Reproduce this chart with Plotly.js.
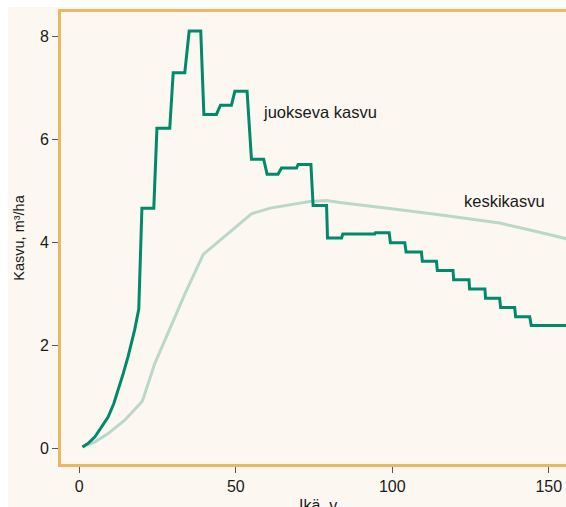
<!DOCTYPE html>
<html>
<head>
<meta charset="utf-8">
<script src="https://cdn.plot.ly/plotly-3.0.1.min.js"></script>
<style>
  html, body { margin: 0; padding: 0; background: #ffffff; }
  #chart { position: absolute; left: 8px; top: 7px; width: 558px; height: 500px; }
</style>
</head>
<body>
<div id="chart"></div>
<script>
// Juokseva kasvu: smooth early part (ages, m3/ha)
const earlyAges   = [1, 3, 5, 7, 9.2, 11, 12.4, 14, 15.6, 17.7, 19];
const earlyValues = [0.02, 0.10, 0.22, 0.39, 0.60, 0.86, 1.12, 1.44, 1.78, 2.30, 2.70];

// Juokseva kasvu: 5-year periods (start age, end age, value)
const periodStart = [20, 24.8, 30, 35.1, 39.8, 45.1, 49.7, 55, 60, 64.6, 69.9, 74.7, 79.3, 84.2, 89.5, 94.6, 99.4, 104.4, 109.6, 114.4, 119.6, 124.7, 129.8, 134.6, 139.4, 144.4];
const periodEnd   = [23.8, 28.9, 33.7, 38.8, 43.8, 48.6, 53.6, 58.9, 63.5, 69.4, 74.0, 79.0, 83.8, 89.0, 94.4, 99.0, 104.0, 109.3, 114.1, 119.4, 124.5, 129.6, 134.3, 139.1, 143.9, 156];
const periodValue = [4.66, 6.21, 7.29, 8.10, 6.48, 6.66, 6.93, 5.61, 5.32, 5.44, 5.51, 4.71, 4.08, 4.16, 4.16, 4.18, 3.99, 3.81, 3.63, 3.45, 3.27, 3.09, 2.91, 2.73, 2.55, 2.38];

// Keskikasvu (mean annual increment)
const meanAges   = [1, 5, 9.2, 14.5, 20, 20.6, 24.1, 26.3, 30.5, 33.7, 39.6, 55, 61, 73.6, 79, 83.2, 96, 102.4, 115, 128, 134.3, 145, 156];
const meanValues = [0.02, 0.12, 0.28, 0.54, 0.90, 0.99, 1.64, 1.96, 2.54, 2.99, 3.76, 4.55, 4.66, 4.79, 4.81, 4.77, 4.68, 4.63, 4.53, 4.43, 4.37, 4.22, 4.06];

// Axis ticks
const xTicks = [0, 50, 100, 150];
const yTicks = [0, 2, 4, 6, 8];

const stepX = earlyAges.slice();
const stepY = earlyValues.slice();
for (let i = 0; i < periodStart.length; i++) {
  stepX.push(periodStart[i], periodEnd[i]);
  stepY.push(periodValue[i], periodValue[i]);
}

const FONT = 'Liberation Sans, Arial, sans-serif';

const traces = [
  {
    x: meanAges, y: meanValues, type: 'scatter', mode: 'lines',
    line: { color: '#b9d9c6', width: 3 }, hoverinfo: 'skip', showlegend: false
  },
  {
    x: stepX, y: stepY, type: 'scatter', mode: 'lines',
    line: { color: '#00896a', width: 3 }, hoverinfo: 'skip', showlegend: false
  }
];

const layout = {
  width: 558, height: 500,
  margin: { l: 53, r: 0, t: 5, b: 43 },
  paper_bgcolor: '#fcf8f1',
  plot_bgcolor: '#fcf8f1',
  font: { family: FONT, size: 16, color: '#1a1a1a' },
  showlegend: false,
  xaxis: {
    range: [-5.85, 155.5],
    tickvals: xTicks, ticktext: xTicks.map(String),
    ticks: 'outside', ticklen: 6, tickwidth: 1, tickcolor: '#555555',
    showline: true, linecolor: '#e9b862', linewidth: 3, mirror: true,
    showgrid: false, zeroline: false,
    tickfont: { size: 16, family: FONT, color: '#1a1a1a' }
  },
  yaxis: {
    range: [-0.31, 8.47],
    tickvals: yTicks, ticktext: yTicks.map(String),
    ticks: 'outside', ticklen: 6, tickwidth: 1, tickcolor: '#555555',
    showline: true, linecolor: '#e9b862', linewidth: 3,
    showgrid: false, zeroline: false,
    tickfont: { size: 16, family: FONT, color: '#1a1a1a' },
    title: { text: 'Kasvu, m³/ha', font: { size: 14.5, family: FONT, color: '#1a1a1a' }, standoff: 12 }
  },
  annotations: [
    { x: 0.508, y: -0.069, xref: 'paper', yref: 'paper', text: 'Ikä, v', showarrow: false,
      xanchor: 'center', yanchor: 'top', font: { size: 16, family: FONT, color: '#1a1a1a' } },
    { x: 58.2, y: 6.52, xref: 'x', yref: 'y', text: 'juokseva kasvu', showarrow: false,
      xanchor: 'left', yanchor: 'middle', font: { size: 16.5, family: FONT, color: '#1a1a1a' } },
    { x: 122.4, y: 4.8, xref: 'x', yref: 'y', text: 'keskikasvu', showarrow: false,
      xanchor: 'left', yanchor: 'middle', font: { size: 16.5, family: FONT, color: '#1a1a1a' } }
  ]
};

Plotly.newPlot('chart', traces, layout, { staticPlot: true, displayModeBar: false });
</script>
</body>
</html>
